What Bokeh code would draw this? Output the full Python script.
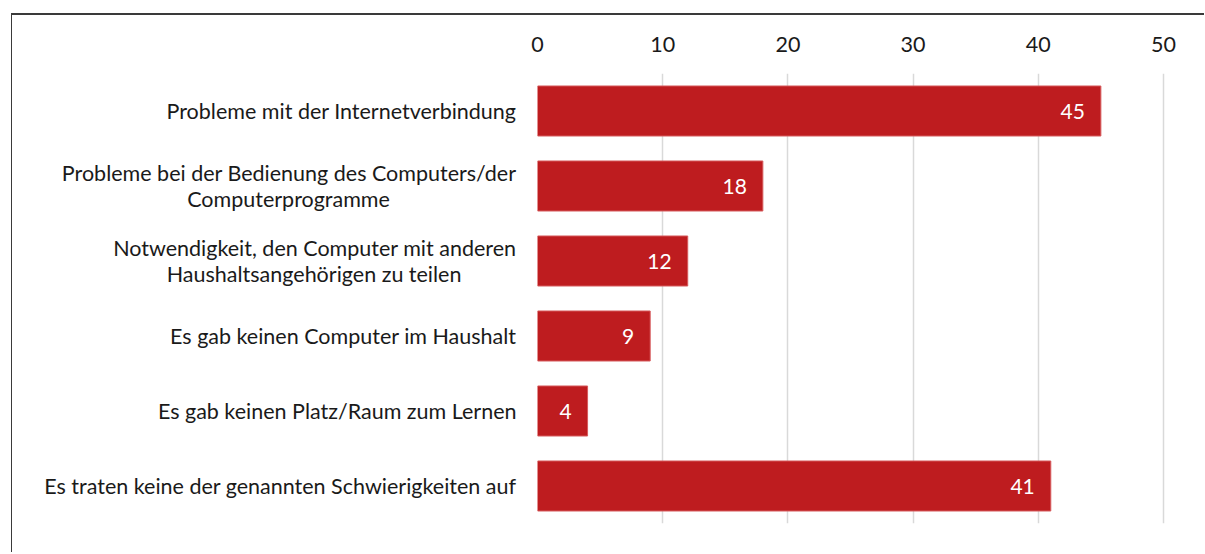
from bokeh.plotting import figure
from bokeh.models import ColumnDataSource, FactorRange, Range1d
from bokeh.core.properties import value
from bokeh.embed import file_html
from bokeh.resources import INLINE

NB = "\u00a0"
categories = [
    "Probleme mit der Internetverbindung",
    "Probleme bei der Bedienung des Computers/der\nComputerprogramme" + NB * 23,
    "Notwendigkeit, den Computer mit anderen\nHaushaltsangehörigen zu teilen" + NB * 10,
    "Es gab keinen Computer im Haushalt",
    "Es gab keinen Platz/Raum zum Lernen",
    "Es traten keine der genannten Schwierigkeiten auf",
]
values = [45, 18, 12, 9, 4, 41]
x_ticks = [0, 10, 20, 30, 40, 50]

FONT = "Lato"
BAR = "#BE1C1F"

source = ColumnDataSource(dict(cat=categories, val=values,
                               lbl=[str(v) for v in values]))

p = figure(
    width=1193, height=539,
    y_range=FactorRange(factors=list(reversed(categories)), range_padding=0),
    x_range=Range1d(0, 52),
    x_axis_location="above",
    output_backend="svg",
    toolbar_location=None,
    min_border_left=525, min_border_right=17,
    min_border_top=58, min_border_bottom=31,
)
p.styles = {"margin-left": "11px", "margin-top": "13px",
            "border-left": "1px solid #3a3a3a",
            "border-top": "2px solid #3a3a3a"}

p.hbar(y="cat", right="val", left=0, height=0.667, source=source,
       fill_color=BAR, line_color="#d65a5c", line_width=1)

p.text(x="val", y="cat", text="lbl", source=source,
       text_align="right", text_baseline="middle", x_offset=-16,
       text_color="white", text_font=value(FONT), text_font_size="21px")

p.outline_line_color = None
p.background_fill_color = "white"
p.border_fill_color = "white"

p.xaxis.ticker = x_ticks
p.xaxis.axis_line_color = None
p.xaxis.major_tick_line_color = None
p.xaxis.minor_tick_line_color = None
p.xaxis.major_label_text_font = FONT
p.xaxis.major_label_text_font_size = "21.5px"
p.xaxis.major_label_text_color = "#1a1a1a"
p.xaxis.major_label_standoff = 16

p.yaxis.axis_line_color = None
p.yaxis.major_tick_line_color = None
p.yaxis.minor_tick_line_color = None
p.yaxis.major_label_text_font = FONT
p.yaxis.major_label_text_font_size = "21.5px"
p.yaxis.major_label_text_color = "#1a1a1a"
p.yaxis.major_label_text_line_height = 1.03
p.yaxis.major_label_standoff = 15

p.xgrid.grid_line_color = "#d9d9d9"
p.xgrid.grid_line_width = 1.5
p.ygrid.grid_line_color = None

open("out.html", "w").write(file_html(p, INLINE))
